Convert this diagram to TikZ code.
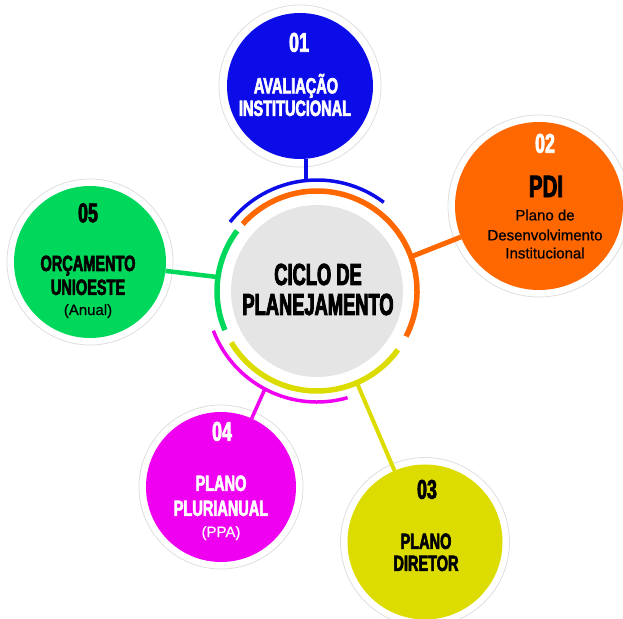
\documentclass[tikz,border=0pt]{standalone}
\usepackage{fontspec}
\setmainfont{Liberation Sans}[FakeBold=0.7]
\newfontfamily\condf[FakeStretch=0.66,FakeBold=2.6]{Liberation Sans}
\newfontfamily\bigf[FakeStretch=0.6,FakeBold=2.8]{Liberation Sans}
\definecolor{cblue}{RGB}{12,12,232}
\definecolor{corange}{RGB}{255,104,0}
\definecolor{cgreen}{RGB}{0,216,92}
\definecolor{cmag}{RGB}{240,0,240}
\definecolor{cyel}{RGB}{220,220,0}
\definecolor{cgray}{RGB}{229,229,229}
\begin{document}
\begin{tikzpicture}[x=1pt,y=1pt,
  bubble/.style={circle,inner sep=0pt,outer sep=0pt},
  ring/.style={draw=black!13,line width=0.8pt},
  wordtxt/.style={anchor=base,inner sep=0pt,font=\condf\bfseries\fontsize{22}{22}\selectfont},
  numtxt/.style={anchor=base,inner sep=0pt,font=\condf\bfseries\fontsize{27}{27}\selectfont},
  bigtxt/.style={anchor=base,inner sep=0pt,font=\bigf\bfseries\fontsize{30.5}{30.5}\selectfont},
  pditxt/.style={anchor=base,inner sep=0pt,font=\condf\bfseries\fontsize{31}{31}\selectfont},
  smalltxt/.style={anchor=base,inner sep=0pt,font=\fontsize{15}{15}\selectfont},
  thickarc/.style={line width=5.5pt},
  thinarc/.style={line width=3.5pt},
]
\useasboundingbox (0,0) rectangle (623,618);
\coordinate (O) at (317,327);

% bubbles
\node[bubble,fill=cgray,minimum size=172pt] (C) at (O) {};
\node[bubble,fill=cblue,minimum size=146pt] (c1) at (300,532) {};
\node[bubble,fill=corange,minimum size=168pt] (c2) at (539,412) {};
\node[bubble,fill=cyel,minimum size=155pt] (c3) at (425,76) {};
\node[bubble,fill=cmag,minimum size=150pt] (c4) at (221,131) {};
\node[bubble,fill=cgreen,minimum size=152pt] (c5) at (90,356) {};

% rings
\draw[ring] (c1) circle (81);
\draw[ring] (c2) circle (91);
\draw[ring] (c3) circle (84.5);
\draw[ring] (c4) circle (82);
\draw[ring] (c5) circle (83);

% arcs
\draw[corange,thickarc] (O) ++(-27:100) arc[start angle=-27,end angle=138,radius=100];
\draw[cblue,thinarc] (O) ++(53:111) arc[start angle=53,end angle=141.6,radius=111];
\draw[cgreen,thickarc] (O) ++(143:100) arc[start angle=143,end angle=203,radius=100];
\draw[cyel,thickarc] (O) ++(211:100) arc[start angle=211,end angle=324,radius=100];
\draw[cmag,thinarc] (O) ++(201:111) arc[start angle=201,end angle=286,radius=111];

% connector ends on arcs
\path (O) ++(95.7:111) coordinate (b1);
\path (O) ++(20:100) coordinate (b2);
\path (O) ++(-66.5:100) coordinate (b3);
\path (O) ++(242:111) coordinate (b4);
\path (O) ++(172:100) coordinate (b5);

\draw[cblue,line width=3.5pt] (b1) -- (b1 |- c1.south);
\draw[corange,line width=5pt] (b2) -- (c2);
\draw[cyel,line width=4pt] (b3) -- (c3);
\draw[cmag,line width=3.5pt] (b4) -- (c4);
\draw[cgreen,line width=4.5pt] (b5) -- (c5);

% texts
\node[bigtxt] (t0a) at (318,333) {CICLO DE};
\node[bigtxt] (t0b) at (318,303) {PLANEJAMENTO};

\node[numtxt,white] (t1n) at (299,566.3) {01};
\node[wordtxt,white] (t1a) at (296,524.6) {AVALIAÇÃO};
\node[wordtxt,white] (t1b) at (295,502.1) {INSTITUCIONAL};

\node[numtxt,white] (t2n) at (545,465.3) {02};
\node[pditxt] (t2a) at (546,420.9) {PDI};
\node[smalltxt] (t2b) at (545,397.6) {Plano de};
\node[smalltxt] (t2c) at (545,377.6) {Desenvolvimento};
\node[smalltxt] (t2d) at (545,359.6) {Institucional};

\node[numtxt] (t3n) at (427,119.3) {03};
\node[wordtxt] (t3a) at (426,69.1) {PLANO};
\node[wordtxt] (t3b) at (426,47.1) {DIRETOR};

\node[numtxt,white] (t4n) at (222,177.3) {04};
\node[wordtxt,white] (t4a) at (221,127.1) {PLANO};
\node[wordtxt,white] (t4b) at (221,102.1) {PLURIANUAL};
\node[smalltxt,white] (t4c) at (221,81) {(PPA)};

\node[numtxt] (t5n) at (88,395.8) {05};
\node[wordtxt] (t5a) at (88,347) {ORÇAMENTO};
\node[wordtxt] (t5b) at (88,323.1) {UNIOESTE};
\node[smalltxt] (t5c) at (88,303) {(Anual)};
\end{tikzpicture}
\end{document}
